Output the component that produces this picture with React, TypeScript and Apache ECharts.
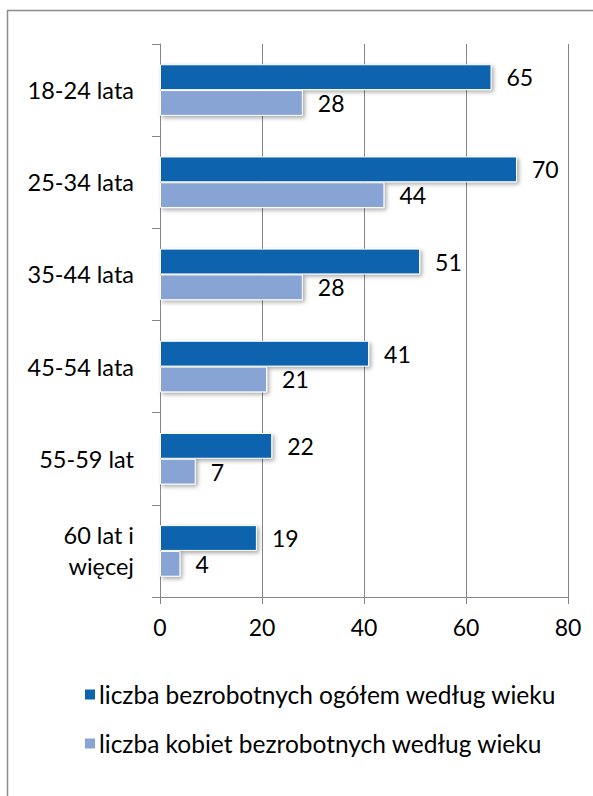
import React, { useEffect, useRef } from "react";
import * as echarts from "echarts";

const categories = ["18-24 lata", "25-34 lata", "35-44 lata", "45-54 lata", "55-59 lat", "60 lat i\nwięcej"];
const totalValues = [65, 70, 51, 41, 22, 19];
const womenValues = [28, 44, 28, 21, 7, 4];
const seriesNames = [
  "liczba bezrobotnych ogółem według wieku",
  "liczba kobiet bezrobotnych według wieku",
];
const xTicks = { min: 0, max: 80, interval: 20 };

const FONT = "Lato";

export default function App() {
  const ref = useRef<HTMLDivElement>(null);
  useEffect(() => {
    if (!ref.current) return;
    const chart = echarts.init(ref.current, undefined, { renderer: "svg" });
    const barStyle = (color: string) => ({
      color,
      borderColor: "#ffffff",
      borderWidth: 1,
      shadowColor: "rgba(0,0,0,0.35)",
      shadowBlur: 4,
      shadowOffsetX: 2,
      shadowOffsetY: 2,
    });
    const labelStyle = {
      show: true,
      position: "right" as const,
      distance: 15,
      color: "#000",
      fontFamily: FONT,
      fontSize: 23,
    };
    chart.setOption({
      animation: false,
      graphic: [
        {
          type: "rect",
          shape: { x: 7.5, y: 10.5, width: 800, height: 900 },
          style: { fill: "none", stroke: "#8c8c8c", lineWidth: 1.5 },
          silent: true,
        },
      ],
      grid: { left: 160, right: 25, top: 44, bottom: 199, containLabel: false },
      legend: {
        orient: "vertical",
        left: 78,
        top: 677,
        itemWidth: 12,
        itemHeight: 12,
        itemGap: 24,
        icon: "rect",
        textStyle: { fontFamily: FONT, fontSize: 24.5, color: "#000", padding: [0, 0, 0, -2] },
        data: seriesNames,
      },
      xAxis: {
        type: "value",
        min: xTicks.min,
        max: xTicks.max,
        interval: xTicks.interval,
        axisLine: { show: true, lineStyle: { color: "#868686", width: 1 } },
        axisTick: { show: true, length: 7, lineStyle: { color: "#868686" } },
        splitLine: { show: true, lineStyle: { color: "#868686", width: 1 } },
        axisLabel: { fontFamily: FONT, fontSize: 23, color: "#000", margin: 18 },
      },
      yAxis: {
        type: "category",
        inverse: true,
        data: categories,
        axisLine: { show: true, lineStyle: { color: "#868686", width: 1 } },
        axisTick: { show: true, length: 8, lineStyle: { color: "#868686" } },
        axisLabel: {
          fontFamily: FONT,
          fontSize: 23.5,
          color: "#000",
          margin: 26,
          lineHeight: 31,
          align: "right",
        },
      },
      series: [
        {
          name: seriesNames[0],
          type: "bar",
          data: totalValues,
          barGap: "0%",
          barCategoryGap: "44%",
          itemStyle: barStyle("#0c64ad"),
          label: labelStyle,
        },
        {
          name: seriesNames[1],
          type: "bar",
          data: womenValues,
          barGap: "0%",
          barCategoryGap: "44%",
          itemStyle: barStyle("#88a4d4"),
          label: labelStyle,
        },
      ],
    });
    return () => chart.dispose();
  }, []);
  return (
    <div
      ref={ref}
      style={{ position: "fixed", left: 0, top: 0, width: 593, height: 796, background: "#fff" }}
    />
  );
}
